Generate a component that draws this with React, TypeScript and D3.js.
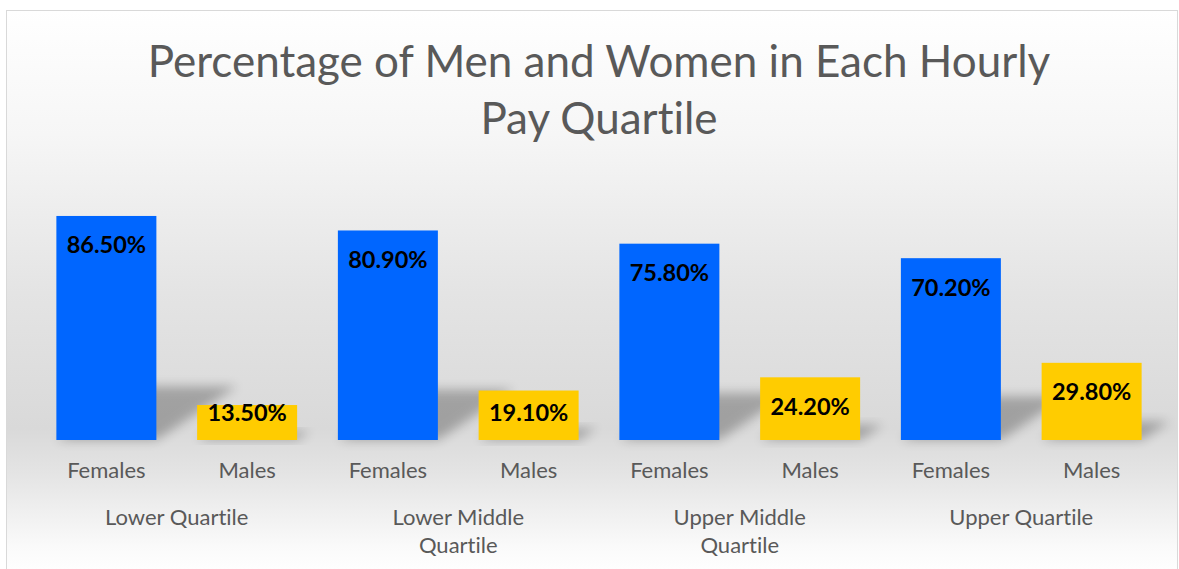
import React from "react";
import * as d3 from "d3";

const groups = ["Lower Quartile", "Lower Middle Quartile", "Upper Middle Quartile", "Upper Quartile"];
const groupLines = [["Lower Quartile"], ["Lower Middle", "Quartile"], ["Upper Middle", "Quartile"], ["Upper Quartile"]];
const genders = ["Females", "Males"];
const femaleValues = [86.5, 80.9, 75.8, 70.2];
const maleValues = [13.5, 19.1, 24.2, 29.8];
const titleLines = ["Percentage of Men and Women in Each Hourly", "Pay Quartile"];

const W = 1179;
const H = 569;
const FONT = "Lato, 'Open Sans', sans-serif";
const TEXT = "#595959";
const colors: Record<string, string> = { Females: "#0066FF", Males: "#FFCC00" };
const noLig = { fontVariantLigatures: "none" as const };

export default function App() {
  const x0 = d3.scaleBand<string>().domain(groups).range([36, 1162]).padding(0);
  const x1 = d3
    .scaleBand<string>()
    .domain(genders)
    .range([0, x0.bandwidth()])
    .paddingInner(0.2895)
    .paddingOuter(0.2895 / 2);
  const y = d3.scaleLinear().domain([0, 100]).range([440, 181]);
  const fmt = d3.format(".2f");

  const bars = groups.flatMap((g, i) =>
    genders.map((s) => ({
      g,
      s,
      v: s === "Females" ? femaleValues[i] : maleValues[i],
    }))
  );

  return (
    <div style={{ position: "fixed", left: 0, top: 0 }}>
      <svg width={W} height={H} style={{ display: "block" }}>
        <defs>
          <linearGradient id="bg" x1="0" y1="10" x2="0" y2="575" gradientUnits="userSpaceOnUse">
            <stop offset="0" stopColor="#ffffff" />
            <stop offset="0.22" stopColor="#f6f6f6" />
            <stop offset="0.5" stopColor="#e4e4e4" />
            <stop offset="0.74" stopColor="#d9d9d9" />
            <stop offset="0.82" stopColor="#e4e4e4" />
            <stop offset="0.95" stopColor="#fafafa" />
            <stop offset="1" stopColor="#ffffff" />
          </linearGradient>
          <filter id="blur" x="-50%" y="-50%" width="200%" height="200%">
            <feGaussianBlur stdDeviation="5.5" />
          </filter>
        </defs>
        <rect x={0} y={0} width={W} height={H} fill="#ffffff" />
        <rect x={6.5} y={10.5} width={1171} height={575} fill="url(#bg)" stroke="#d9d9d9" strokeWidth={1} />

        {titleLines.map((t, i) => (
          <text
            key={t}
            x={599}
            y={77 + i * 57}
            textAnchor="middle"
            fontFamily={FONT}
            fontSize={44}
            fill={TEXT}
            style={noLig}
          >
            {t}
          </text>
        ))}

        <g>
          {bars.map((b) => {
            const bx = (x0(b.g) ?? 0) + (x1(b.s) ?? 0);
            const bw = x1.bandwidth();
            const h = y(0) - y(b.v);
            const sh = h * 0.24;
            const dx = sh * 1.5;
            const base = y(0);
            const pts = [
              [bx, base],
              [bx + bw, base],
              [bx + bw + dx, base - sh],
              [bx + dx, base - sh],
            ]
              .map((p) => p.join(","))
              .join(" ");
            return <polygon key={"sh" + b.g + b.s} points={pts} fill="#000" opacity={0.26} filter="url(#blur)" />;
          })}
        </g>

        <g>
          {bars.map((b) => {
            const bx = (x0(b.g) ?? 0) + (x1(b.s) ?? 0);
            const bw = x1.bandwidth();
            return (
              <rect
                key={"b" + b.g + b.s}
                x={bx}
                y={y(b.v)}
                width={bw}
                height={y(0) - y(b.v)}
                fill={colors[b.s]}
              />
            );
          })}
        </g>

        <g>
          {bars.map((b) => {
            const cx = (x0(b.g) ?? 0) + (x1(b.s) ?? 0) + x1.bandwidth() / 2;
            const ty = Math.min(y(b.v) + 37.5, y(0) - 19.5);
            return (
              <text
                key={"l" + b.g + b.s}
                x={cx}
                y={ty}
                textAnchor="middle"
                fontFamily={FONT}
                fontWeight={700}
                fontSize={23.5}
                fill="#000"
              >
                {fmt(b.v) + "%"}
              </text>
            );
          })}
        </g>

        <g>
          {bars.map((b) => {
            const cx = (x0(b.g) ?? 0) + (x1(b.s) ?? 0) + x1.bandwidth() / 2;
            return (
              <text
                key={"c" + b.g + b.s}
                x={cx}
                y={478}
                textAnchor="middle"
                fontFamily={FONT}
                fontSize={22}
                fill={TEXT}
              >
                {b.s}
              </text>
            );
          })}
        </g>

        <g>
          {groups.map((g, i) => {
            const cx = (x0(g) ?? 0) + x0.bandwidth() / 2;
            return groupLines[i].map((line, j) => (
              <text
                key={"g" + g + j}
                x={cx}
                y={525 + j * 28}
                textAnchor="middle"
                fontFamily={FONT}
                fontSize={22}
                fill={TEXT}
                style={noLig}
              >
                {line}
              </text>
            ));
          })}
        </g>
      </svg>
    </div>
  );
}
